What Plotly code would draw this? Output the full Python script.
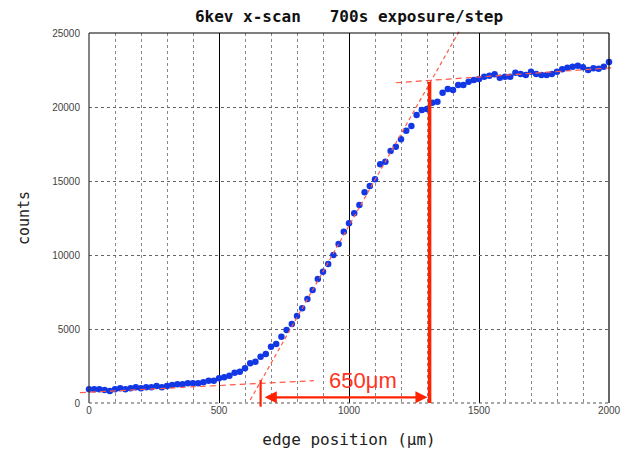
import plotly.graph_objects as go

# ---- data ----
edge_position = list(range(0, 2001, 20))
counts = [
    924, 924, 924, 878, 811, 924, 991, 924, 991, 1059,
    991, 1059, 1059, 1149, 1059, 1149, 1216, 1261, 1261, 1329,
    1329, 1329, 1396, 1509, 1509, 1667, 1734, 1847, 2050, 2117,
    2342, 2680, 2793, 3131, 3311, 3807, 3987, 4482, 4933, 5338,
    5879, 6397, 7027, 7635, 8379, 8874, 9392, 10000, 10744, 11577,
    12140, 12816, 13379, 14234, 14663, 15113, 16126, 16306, 17028, 17320,
    17816, 18402, 18717, 19460, 19798, 19866, 20293, 20361, 20970, 21217,
    21150, 21487, 21487, 21712, 21825, 21893, 22050, 22118, 22208, 21983,
    22050, 22050, 22321, 22231, 22163, 22389, 22231, 22163, 22163, 22231,
    22389, 22546, 22659, 22727, 22794, 22682, 22501, 22614, 22591, 22727,
    23043,
]

# fitted guide lines (endpoints)
baseline_fit_x = [-35, 865]
baseline_fit_y = [700, 1510]
steep_fit_x = [620, 1423]
steep_fit_y = [200, 25090]
plateau_fit_x = [1180, 2020]
plateau_fit_y = [21640, 22660]

edge_start_x = 660
edge_start_y = [-250, 1550]
edge_end_x = 1310
edge_end_y = [0, 21700]
arrow_y = 385
width_label = "650μm"
width_label_pos = (1052, 1500)

x_range = [0, 2000]
y_range = [0, 25000]
x_ticks = [0, 500, 1000, 1500, 2000]
x_tick_labels = ["0", "500", "1000", "1500", "2000"]
y_ticks = [0, 5000, 10000, 15000, 20000, 25000]
y_tick_labels = ["0", "5000", "10000", "15000", "20000", "25000"]


def px(x):
    return (x - x_range[0]) / (x_range[1] - x_range[0])


def py(y):
    return (y - y_range[0]) / (y_range[1] - y_range[0])


fig = go.Figure()
fig.add_trace(go.Scatter(
    x=edge_position, y=counts, mode="markers",
    marker=dict(size=6.5, color="#1238e6", line=dict(width=0)),
    cliponaxis=False, showlegend=False,
))

shapes = []
red_dash = "#ff5a4a"
for xs, ys, dash in [
    (baseline_fit_x, baseline_fit_y, "6px,4px"),
    (steep_fit_x, steep_fit_y, "4px,3px"),
    (plateau_fit_x, plateau_fit_y, "6px,4px"),
]:
    shapes.append(dict(type="line", xref="paper", yref="paper",
                       x0=px(xs[0]), y0=py(ys[0]), x1=px(xs[1]), y1=py(ys[1]),
                       line=dict(color=red_dash, width=1.2, dash=dash), layer="above"))

# frame
shapes.append(dict(type="line", xref="paper", yref="paper", x0=0, x1=1, y0=1, y1=1,
                   line=dict(color="#000", width=1.2)))
shapes.append(dict(type="line", xref="paper", yref="paper", x0=0, x1=0, y0=0, y1=1,
                   line=dict(color="#333", width=1.2)))
shapes.append(dict(type="line", xref="paper", yref="paper", x0=1, x1=1, y0=0, y1=1,
                   line=dict(color="#000", width=1.2)))
shapes.append(dict(type="line", xref="paper", yref="paper", x0=0, x1=1, y0=0, y1=0,
                   line=dict(color="#555", width=1.2, dash="dot")))

# red markers of edge width
shapes.append(dict(type="line", xref="paper", yref="paper",
                   x0=px(edge_end_x), x1=px(edge_end_x), y0=py(edge_end_y[0]), y1=py(edge_end_y[1]),
                   line=dict(color="#ff2200", width=3.5), layer="above"))
shapes.append(dict(type="line", xref="paper", yref="paper",
                   x0=px(edge_start_x), x1=px(edge_start_x), y0=py(edge_start_y[0]), y1=py(edge_start_y[1]),
                   line=dict(color="#ff2200", width=2.2), layer="above"))

annotations = [
    dict(x=edge_end_x - 8, y=arrow_y, ax=edge_start_x + 10, ay=arrow_y,
         xref="x", yref="y", axref="x", ayref="y", text="", showarrow=True,
         arrowhead=2, arrowside="end+start", arrowsize=1.1, arrowwidth=2.2,
         arrowcolor="#ff2200"),
    dict(x=width_label_pos[0], y=width_label_pos[1], xref="x", yref="y",
         text=width_label, showarrow=False,
         font=dict(family="Liberation Sans Narrow, Liberation Sans", size=22, color="#ff3322")),
]

fig.update_layout(
    width=632, height=456,
    margin=dict(l=89, r=23, t=33, b=53),
    paper_bgcolor="white", plot_bgcolor="white",
    title=dict(text="6kev x-scan\u00a0\u00a0\u00a0700s exposure/step",
               x=(89 + 609) / 2 / 632, xanchor="center", y=1 - 16 / 456, yanchor="middle",
               font=dict(family="DejaVu Sans Mono", size=16, color="#111", weight="bold")),
    xaxis=dict(range=x_range, tickvals=x_ticks, ticktext=x_tick_labels,
               showgrid=True, gridcolor="#000", gridwidth=1,
               zeroline=False, showline=False, ticks="",
               tickfont=dict(family="Liberation Sans", size=10, color="#444"),
               minor=dict(dtick=100, tick0=0, showgrid=True, gridcolor="#888",
                          griddash="dot", gridwidth=1),
               title=dict(text="edge position (μm)", standoff=18,
                          font=dict(family="DejaVu Sans Mono", size=16, color="#222"))),
    yaxis=dict(range=y_range, tickvals=y_ticks, ticktext=y_tick_labels,
               showgrid=True, gridcolor="#666",
               griddash="dot", gridwidth=1, zeroline=False, showline=False, ticks="",
               ticklabelstandoff=8,
               tickfont=dict(family="Liberation Sans", size=10, color="#444"),
               title=dict(text="counts", standoff=18,
                          font=dict(family="DejaVu Sans Mono", size=15, color="#222"))),
    shapes=shapes,
    annotations=annotations,
)

fig.write_html("out.html")
